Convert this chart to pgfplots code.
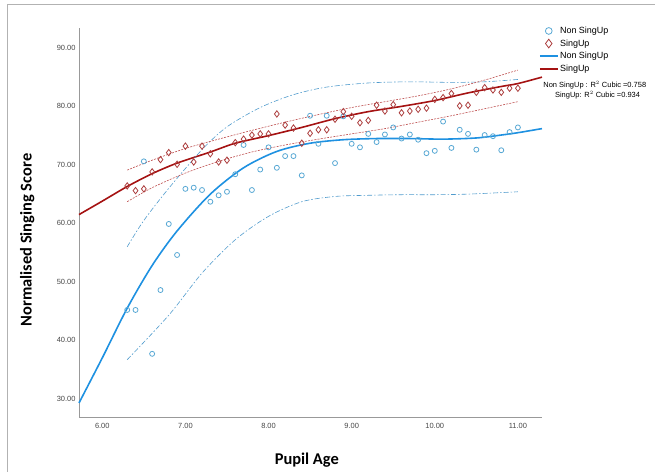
\documentclass[border=0pt]{standalone}
\usepackage{fontspec}
\setmainfont{Liberation Sans}
\newfontfamily\labelfont{Carlito}
\usepackage{pgfplots}
\pgfplotsset{compat=1.18}
\usetikzlibrary{calc}

\definecolor{nsPt}{RGB}{88,168,212}
\definecolor{suPt}{RGB}{172,62,62}
\definecolor{nsFit}{RGB}{30,145,225}
\definecolor{suFit}{RGB}{165,18,18}
\definecolor{nsCI}{RGB}{80,155,205}
\definecolor{suCI}{RGB}{190,80,80}
\definecolor{tickgray}{RGB}{70,70,70}

\begin{document}
\begin{tikzpicture}[x=1bp,y=1bp]
\begin{axis}[
    scale only axis,
    width=463bp, height=389bp,
    xmin=5.72, xmax=11.29,
    ymin=26.9, ymax=93.4,
    axis x line*=bottom, axis y line*=left,
    axis line style={gray!80, line width=0.6bp},
    xtick={6,7,...,11},
    ytick={30,40,...,90},
    major tick length=0pt,
    tick label style={font=\fontsize{7.5}{9}\selectfont, text=tickgray},
    xticklabel style={yshift=-3bp},
    /pgf/number format/.cd, fixed, fixed zerofill, precision=2, assume math mode=true,
    /pgfplots/.cd,
    xlabel={\labelfont\bfseries Pupil Age},
    ylabel={\labelfont\bfseries Normalised Singing Score},
    label style={font=\fontsize{16.5}{18}\selectfont},
    xlabel style={at={(axis description cs:0.492,-0.11)}, anchor=center},
    ylabel style={at={(axis description cs:-0.112,0.455)}, anchor=center},
    clip=false,
    legend style={draw=none, fill=none, at={(axis description cs:0.993,1.007)},
        anchor=north west, font=\fontsize{9}{10.5}\selectfont,
        inner sep=0pt, row sep=1.6bp, nodes={inner sep=1.5bp}},
    legend cell align=left,
    legend image code/.code={\draw[mark repeat=2, mark phase=2, #1, every mark/.append style={scale=1.35}]
        plot coordinates {(0bp,0bp) (9bp,0bp) (18bp,0bp)};},
]
% Non SingUp points
\addplot[only marks, mark=o, mark size=2.5bp, nsPt, line width=0.8bp] coordinates {
(6.3,45.2) (6.4,45.2) (6.5,70.6) (6.6,37.7) (6.7,48.6) (6.8,59.9) (6.9,54.6)
(7.0,65.9) (7.1,66.1) (7.2,65.7) (7.3,63.7) (7.4,64.8) (7.5,65.4) (7.6,68.4)
(7.7,73.4) (7.8,65.7) (7.9,69.2) (8.0,73.0) (8.1,69.5) (8.2,71.5) (8.3,71.5)
(8.4,68.2) (8.5,78.4) (8.6,73.6) (8.7,78.4) (8.8,70.3) (8.9,78.3) (9.0,73.6)
(9.1,73.0) (9.2,75.3) (9.3,73.9) (9.4,75.2) (9.5,76.4) (9.6,74.5) (9.7,75.2)
(9.8,74.3) (9.9,72.0) (10.0,72.4) (10.1,77.4) (10.2,72.9) (10.3,76.0) (10.4,75.3)
(10.5,72.6) (10.6,75.1) (10.7,74.9) (10.8,72.5) (10.9,75.6) (11.0,76.4)
};
\addlegendentry{Non SingUp}
% SingUp points
\addplot[only marks, mark=diamond, mark size=3.2bp, suPt, line width=0.8bp] coordinates {
(6.3,66.4) (6.4,65.6) (6.5,65.9) (6.6,68.8) (6.7,70.9) (6.8,72.1) (6.9,70.1)
(7.0,73.2) (7.1,70.5) (7.2,73.2) (7.3,71.9) (7.4,70.5) (7.5,70.8) (7.6,73.8)
(7.7,74.4) (7.8,75.1) (7.9,75.3) (8.0,75.3) (8.1,78.7) (8.2,76.8) (8.3,76.3)
(8.4,73.7) (8.5,75.4) (8.6,76.0) (8.7,76.0) (8.8,77.8) (8.9,79.1) (9.0,78.3)
(9.1,77.2) (9.2,77.6) (9.3,80.2) (9.4,79.2) (9.5,80.3) (9.6,78.9) (9.7,79.2)
(9.8,79.5) (9.9,79.7) (10.0,81.2) (10.1,81.5) (10.2,82.2) (10.3,80.1) (10.4,80.2)
(10.5,82.4) (10.6,83.2) (10.7,82.8) (10.8,82.4) (10.9,83.1) (11.0,83.1)
};
\addlegendentry{SingUp}
% cubic fits
\addplot[nsFit, line width=1.6bp, smooth] coordinates {
(5.72,29.3) (6.0,37.0) (6.3,45.5) (6.6,52.8) (6.9,58.7) (7.3,65.0) (7.7,69.5)
(8.1,72.3) (8.5,73.7) (8.9,74.3) (9.3,74.5) (9.7,74.5) (10.1,74.4) (10.5,74.6)
(10.8,75.1) (11.0,75.5) (11.29,76.2)
};
\addlegendentry{Non SingUp}
\addplot[suFit, line width=1.6bp, smooth] coordinates {
(5.72,61.5) (6.0,63.8) (6.3,66.3) (6.6,68.5) (6.9,70.3) (7.3,72.2) (7.6,73.7)
(8.0,75.0) (8.4,76.4) (8.8,77.9) (9.2,79.1) (9.6,80.0) (10.0,81.0) (10.4,82.3)
(10.8,83.4) (11.0,83.9) (11.29,85.0)
};
\addlegendentry{SingUp}
% confidence bands
\addplot[forget plot, nsCI, line width=0.6bp, smooth, dash pattern=on 5bp off 2bp on 1.5bp off 2bp] coordinates {
(6.3,56.0) (6.5,60.5) (6.8,66.0) (7.2,72.6) (7.5,76.5) (7.9,79.8) (8.3,82.0)
(8.7,83.3) (9.2,84.0) (9.7,84.2) (10.2,84.1) (10.6,84.2) (11.0,84.6)
};
\addplot[forget plot, nsCI, line width=0.6bp, smooth, dash pattern=on 5bp off 2bp on 1.5bp off 2bp] coordinates {
(6.3,36.7) (6.8,44.3) (7.2,51.5) (7.6,57.2) (8.0,61.2) (8.4,63.7) (8.8,64.6)
(9.2,64.8) (9.6,64.9) (10.0,64.9) (10.4,65.0) (11.0,65.4)
};
\addplot[forget plot, suCI, line width=0.6bp, smooth, dash pattern=on 2bp off 1.2bp] coordinates {
(6.3,69.1) (6.6,70.8) (7.0,72.8) (7.4,74.4) (7.8,75.9) (8.2,77.3) (8.6,78.6)
(9.0,79.8) (9.4,80.8) (9.8,81.8) (10.2,83.0) (10.6,84.5) (11.0,86.2)
};
\addplot[forget plot, suCI, line width=0.6bp, smooth, dash pattern=on 2bp off 1.2bp] coordinates {
(6.3,63.7) (6.6,66.1) (7.0,68.6) (7.4,70.6) (7.8,72.2) (8.2,73.4) (8.6,74.4)
(9.0,75.3) (9.4,76.2) (9.8,77.3) (10.2,78.4) (10.6,79.6) (11.0,80.8)
};
\node[font=\fontsize{7.5}{9}\selectfont, anchor=center] at (axis description cs:1.114,0.853) {Non SingUp : R$^2$ Cubic =0.758};
\node[font=\fontsize{7.5}{9}\selectfont, anchor=center] at (axis description cs:1.120,0.827) {SingUp: R$^2$ Cubic =0.934};
\coordinate (bl) at (rel axis cs:0,0);
\end{axis}
\pgfresetboundingbox
\useasboundingbox ($(bl)+(-79,-55)$) rectangle ($(bl)+(576,417)$);
\draw[gray!60, line width=1bp] ($(bl)+(-71,-55)$) -- ($(bl)+(-71,412)$) -- ($(bl)+(576,412)$);
\end{tikzpicture}
\end{document}
